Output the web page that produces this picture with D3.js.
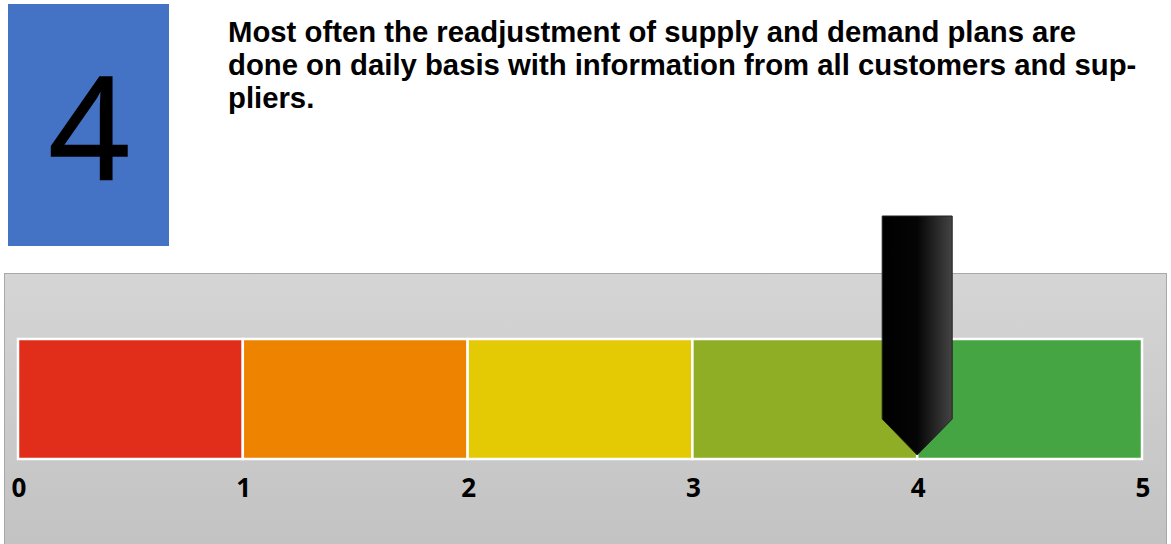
<!DOCTYPE html>
<head>
    <title>Gauge bar</title>
    <script src='https://d3js.org/d3.v7.min.js'></script>
</head>
<style>
body {
  margin: 0;
  background: #fff;
  font-family: 'Liberation Sans', Arial, Helvetica, sans-serif;
}
</style>
<body>
    <svg></svg>
</body>

<script>
    // Chart data
    var vScore = 4;
    var vSegments = [0, 1, 2, 3, 4];
    var vSegmentColors = ['#E02E1A', '#EE8300', '#E3CA05', '#8FAD25', '#45A542'];
    var vTicks = [0, 1, 2, 3, 4, 5];
    var vTitleLines = [
        'Most often the readjustment of supply and demand plans are',
        'done on daily basis with information from all customers and sup-',
        'pliers.'
    ];

    var vWidth = 1171;
    var vHeight = 544;

    var svg = d3.select('svg')
        .attr('width', vWidth)
        .attr('height', vHeight)
        .style('display', 'block');

    var defs = svg.append('defs');

    // Gray panel gradient
    var gPanel = defs.append('linearGradient').attr('id', 'panelGrad')
        .attr('x1', 0).attr('y1', 0).attr('x2', 0).attr('y2', 1);
    gPanel.append('stop').attr('offset', '0%').attr('stop-color', '#D5D5D5');
    gPanel.append('stop').attr('offset', '100%').attr('stop-color', '#C2C2C2');

    // Pointer gradient (black -> dark gray on the right)
    var gPtr = defs.append('linearGradient').attr('id', 'ptrGrad')
        .attr('x1', 0).attr('y1', 0).attr('x2', 1).attr('y2', 0);
    gPtr.append('stop').attr('offset', '0%').attr('stop-color', '#000');
    gPtr.append('stop').attr('offset', '50%').attr('stop-color', '#050505');
    gPtr.append('stop').attr('offset', '100%').attr('stop-color', '#444');

    // Score box
    svg.append('rect')
        .attr('x', 8).attr('y', 4)
        .attr('width', 161).attr('height', 242)
        .attr('fill', '#4472C4');
    svg.append('text')
        .attr('x', 89).attr('y', 180)
        .attr('text-anchor', 'middle')
        .style('font-family', "'Open Sans', sans-serif")
        .style('font-size', '142px')
        .style('font-weight', 400)
        .attr('fill', '#000')
        .attr('stroke', '#000')
        .attr('stroke-width', 1.5)
        .text(vScore);

    // Title
    svg.append('text')
        .attr('x', 228).attr('y', 41.5)
        .style('font-size', '29.3px')
        .style('font-weight', 'bold')
        .attr('fill', '#000')
        .selectAll('tspan').data(vTitleLines).enter().append('tspan')
        .attr('x', 228)
        .attr('dy', function(d, i) { return i ? 33 : 0; })
        .text(function(d) { return d; });

    // Panel
    svg.append('rect')
        .attr('x', 4.5).attr('y', 273.5)
        .attr('width', 1162).attr('height', 280)
        .attr('fill', 'url(#panelGrad)')
        .attr('stroke', '#A8A8A8')
        .attr('stroke-width', 1);

    // Scale
    var x = d3.scaleLinear().domain([0, 5]).range([18, 1142]);
    var yTop = 339, yBot = 459;

    svg.append('g').selectAll('rect').data(vSegments).enter().append('rect')
        .attr('x', function(d) { return x(d); })
        .attr('y', yTop)
        .attr('width', function(d) { return x(d + 1) - x(d); })
        .attr('height', yBot - yTop)
        .attr('fill', function(d, i) { return vSegmentColors[i]; })
        .attr('stroke', '#fff')
        .attr('stroke-width', 2.5);

    // Tick labels
    svg.append('g').selectAll('text').data(vTicks).enter().append('text')
        .attr('x', function(d) { return x(d) + 1; })
        .attr('y', 497)
        .attr('text-anchor', 'middle')
        .style('font-family', "'Open Sans', sans-serif")
        .style('font-weight', 'bold')
        .style('font-size', '26px')
        .attr('fill', '#000')
        .text(function(d) { return d; });

    // Pointer
    var px = x(vScore);
    var half = 35;
    var tipY = 455;
    var shoulderY = 419;
    var topY = 216;
    svg.append('path')
        .attr('d', 'M' + (px - half) + ',' + topY +
                   'L' + (px + half) + ',' + topY +
                   'L' + (px + half) + ',' + shoulderY +
                   'L' + px + ',' + tipY +
                   'L' + (px - half) + ',' + shoulderY + 'Z')
        .attr('fill', 'url(#ptrGrad)')
        .attr('stroke', '#222')
        .attr('stroke-width', 1);
</script>
